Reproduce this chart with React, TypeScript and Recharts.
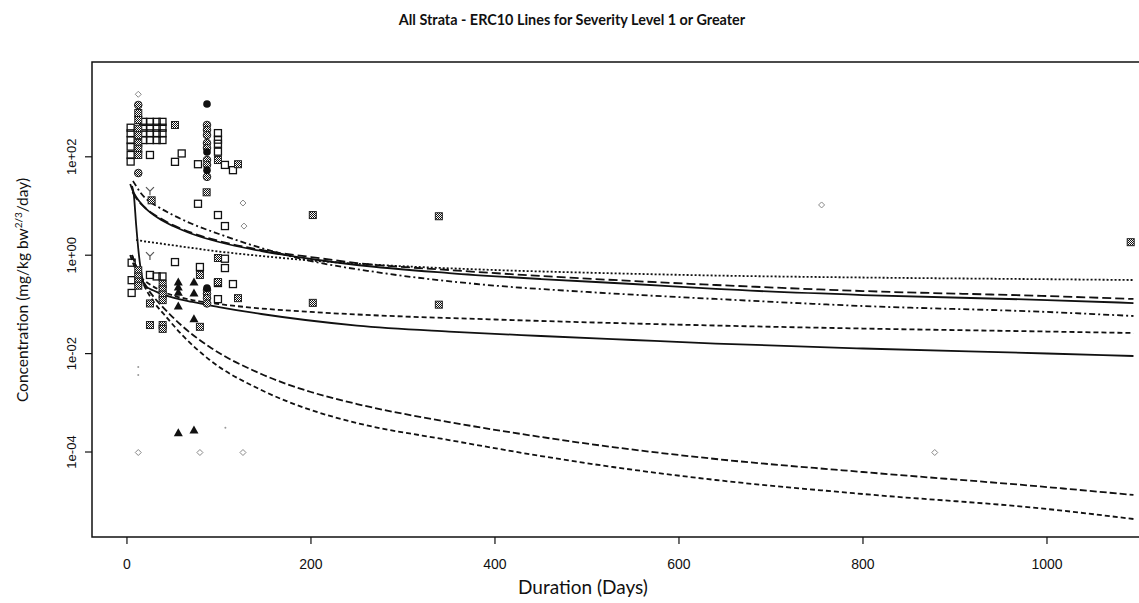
import React from "react";
import { ComposedChart, Line, Scatter, XAxis, YAxis, ReferenceArea } from "recharts";

// ERC10 curves, [duration in days, concentration]
const solidUpper = [[3.5, 28], [6, 21.1], [10, 15.2], [15, 11.5], [20, 9.1], [34, 5.7], [50, 3.92], [71, 2.7], [100, 1.855], [146, 1.217], [200, 0.837], [250, 0.632], [350, 0.434], [450, 0.328], [550, 0.26], [640, 0.206], [800, 0.155], [1000, 0.1227], [1094, 0.1066]];
const longDashUpper = [[6, 19.3], [10, 14.5], [20, 9.1], [34, 5.97], [71, 2.83], [100, 1.944], [146, 1.276], [200, 0.918], [250, 0.693], [350, 0.5], [450, 0.378], [550, 0.299], [640, 0.248], [800, 0.187], [1000, 0.148], [1094, 0.129]];
const dashDot = [[6.5, 32.2], [10, 25.5], [15, 18.4], [20, 14.5], [34, 9.55], [50, 6.56], [71, 4.31], [100, 2.7], [146, 1.4], [200, 0.762], [270, 0.456], [380, 0.26], [500, 0.179], [640, 0.129], [800, 0.0927], [1000, 0.0702], [1094, 0.0581]];
const dotted = [[10, 2.04], [20, 1.898], [40, 1.69], [71, 1.4], [100, 1.189], [146, 0.964], [200, 0.78], [275, 0.632], [400, 0.5], [517, 0.434], [640, 0.386], [800, 0.352], [1000, 0.325], [1094, 0.313]];
const shortDash = [[3.5, 1.009], [7, 0.662], [10, 0.5], [15, 0.36], [26, 0.248], [40, 0.179], [71, 0.1227], [100, 0.1019], [146, 0.0826], [200, 0.0702], [250, 0.0624], [400, 0.0493], [640, 0.0372], [800, 0.0323], [1000, 0.0281], [1094, 0.0262]];
const solidLower = [[5.5, 25.5], [7.5, 16.7], [10, 4.11], [13, 1.009], [16, 0.396], [19, 0.248], [30, 0.187], [41, 0.155], [71, 0.112], [100, 0.0885], [146, 0.0638], [194, 0.0482], [250, 0.0372], [350, 0.0281], [450, 0.0228], [550, 0.0189], [640, 0.016], [800, 0.0127], [1000, 0.01005], [1094, 0.00893]];
const steepDashA = [[5.5, 1.009], [10, 0.602], [15, 0.378], [20, 0.248], [30, 0.135], [40, 0.0845], [60, 0.0364], [90, 0.01361], [146, 0.00385], [200, 0.001658], [250, 0.000945], [350, 0.000407], [450, 0.000202], [528, 0.000126], [640, 0.0000721], [800, 0.0000392], [1000, 0.0000194], [1094, 0.0000134]];
const steepDashB = [[5.5, 1.009], [10, 0.575], [15, 0.344], [20, 0.215], [30, 0.1066], [40, 0.0638], [60, 0.0239], [90, 0.00741], [146, 0.00182], [200, 0.000714], [250, 0.000388], [350, 0.000175], [450, 0.0000829], [528, 0.0000496], [640, 0.000027], [800, 0.000014], [1000, 0.00000694], [1094, 0.00000435]];

// observations, [duration in days, concentration]
const openSquares = [
  [4, 390], [4, 300], [4, 219], [4, 161], [4, 109], [4, 80],
  [17.7, 513], [17.7, 390], [17.7, 300], [17.7, 219],
  [25, 513], [25, 390], [25, 300], [25, 219], [25, 109],
  [32.3, 513], [32.3, 390], [32.3, 300], [32.3, 219],
  [38.6, 513], [38.6, 390], [38.6, 300], [38.6, 219],
  [59.5, 117], [52.2, 79], [77.2, 70.7], [98.9, 303], [98.9, 223], [98.9, 184], [98.9, 127], [106.5, 68.4], [115.2, 53.5],
  [77.2, 11.1], [98.9, 6.55], [106.5, 3.91],
  [5.1, 0.704], [5.1, 0.311], [5.1, 0.171], [25, 0.397], [32.3, 0.37], [38.6, 0.37], [52.2, 0.725], [79.3, 0.576], [106.5, 0.548], [106.5, 0.848],
  [98.9, 0.272], [115.2, 0.259], [98.9, 0.128],
];
const hatchSquares = [
  [12.3, 777], [12.3, 560], [12.3, 372], [12.3, 276], [12.3, 190], [12.3, 146], [12.3, 109],
  [52.2, 443], [98.9, 86], [120.7, 70.7], [86.6, 19], [26.8, 13.05], [202, 6.55], [339, 6.19], [1091, 1.84], [202, 0.1075], [339, 0.0988],
  [12.3, 0.493], [12.3, 0.37], [12.3, 0.291], [12.3, 0.24], [38.8, 0.259], [38.8, 0.202], [38.8, 0.1585], [38.8, 0.1223],
  [25, 0.0381], [38.8, 0.0381], [38.8, 0.0318], [79.3, 0.035], [79.3, 0.397], [98.9, 0.285], [120.7, 0.134], [98.9, 0.877], [25, 0.1046],
];
const hatchCircles = [[87, 443], [87, 351], [87, 277], [87, 190], [87, 151], [87, 86], [87, 68.4], [87, 39.1], [12.3, 1130], [12.3, 46.8], [87, 0.196], [87, 0.1646], [87, 0.134], [87, 0.1046]];
const filledCircles = [[87, 1184], [87, 125], [87, 53.5], [87, 0.214]];
const triangles = [[55.8, 0.285], [55.8, 0.227], [55.8, 0.177], [72.8, 0.285], [72.8, 0.171], [55.8, 0.093], [72.8, 0.0509], [55.8, 0.000246], [72.8, 0.00028]];
const diamonds = [[12.3, 1865], [126.1, 11.5], [127.2, 3.91], [755, 10.5], [12.3, 0.0000977], [79.3, 0.0000977], [126.1, 0.0000977], [878, 0.0000977]];
const wyes = [[25, 20], [25, 0.958]];
const specks = [[12.3, 0.00535], [12.3, 0.00367], [107, 0.000312]];

const xTicks = [0, 200, 400, 600, 800, 1000];
const yTicks = [1e-4, 1e-2, 1, 100];
const yTickLabels = ["1e-04", "1e-02", "1e+00", "1e+02"];

const X_DOMAIN: [number, number] = [-38, 1138.6];
const Y_DOMAIN: [number, number] = [1.873e-6, 8450];

const pts = (a: number[][]) => a.map(([x, y]) => ({ x, y }));
const INK = "#111";
const tickFont = "'Liberation Sans', Arial, sans-serif";
const titleFont = "Lato, 'Open Sans', sans-serif";

const OpenSquare = (p: any) => <rect x={p.cx - 3.5} y={p.cy - 3.5} width={7} height={7} fill="none" stroke={INK} strokeWidth={1.3} />;
const HatchSquare = (p: any) => <rect x={p.cx - 3.5} y={p.cy - 3.5} width={7} height={7} fill="url(#hatch)" stroke="#222" strokeWidth={1} />;
const HatchCircle = (p: any) => <circle cx={p.cx} cy={p.cy} r={3.8} fill="url(#hatch)" stroke="#222" strokeWidth={1} />;
const FilledCircle = (p: any) => <circle cx={p.cx} cy={p.cy} r={3.8} fill={INK} />;
const Triangle = (p: any) => <path d={`M${p.cx},${p.cy - 4.5}L${p.cx + 4.5},${p.cy + 3.5}L${p.cx - 4.5},${p.cy + 3.5}Z`} fill={INK} />;
const Diamond = (p: any) => <path d={`M${p.cx},${p.cy - 3}L${p.cx + 3},${p.cy}L${p.cx},${p.cy + 3}L${p.cx - 3},${p.cy}Z`} fill="none" stroke="#888" strokeWidth={1} />;
const Wye = (p: any) => (
  <path d={`M${p.cx - 4},${p.cy - 4}L${p.cx},${p.cy}L${p.cx + 4},${p.cy - 4}M${p.cx},${p.cy}L${p.cx},${p.cy + 4}`} fill="none" stroke="#555" strokeWidth={1.2} />
);
const Speck = (p: any) => <circle cx={p.cx} cy={p.cy} r={1} fill="#999" />;

const XTick = (p: any) => (
  <text x={p.x} y={p.y + 23} textAnchor="middle" fontFamily={tickFont} fontSize={14} fill={INK}>
    {p.payload.value}
  </text>
);
const YTick = (p: any) => {
  const i = yTicks.indexOf(p.payload.value);
  return (
    <text x={72} y={p.y} transform={`rotate(-90, 72, ${p.y})`} textAnchor="middle" dominantBaseline="central" fontFamily={tickFont} fontSize={13} fill={INK}>
      {yTickLabels[i]}
    </text>
  );
};

const curves: { data: number[][]; dash?: string }[] = [
  { data: solidUpper },
  { data: longDashUpper, dash: "9 4" },
  { data: dashDot, dash: "6 3 2 3" },
  { data: dotted, dash: "2 2" },
  { data: shortDash, dash: "5 3" },
  { data: solidLower },
  { data: steepDashA, dash: "7 3" },
  { data: steepDashB, dash: "5 3" },
];

const marks: { data: number[][]; shape: any }[] = [
  { data: diamonds, shape: Diamond },
  { data: specks, shape: Speck },
  { data: openSquares, shape: OpenSquare },
  { data: hatchSquares, shape: HatchSquare },
  { data: hatchCircles, shape: HatchCircle },
  { data: filledCircles, shape: FilledCircle },
  { data: triangles, shape: Triangle },
  { data: wyes, shape: Wye },
];

export default function App() {
  return (
    <div style={{ position: "fixed", left: 0, top: 0, width: 1139, height: 603, overflow: "hidden", background: "#fff" }}>
      <svg width={1139} height={603} style={{ position: "absolute", left: 0, top: 0, pointerEvents: "none" }}>
        <defs>
          <pattern id="hatch" width={2} height={2} patternUnits="userSpaceOnUse">
            <rect width={2} height={2} fill="#fff" />
            <rect width={1} height={1} fill="#111" />
            <rect x={1} y={1} width={1} height={1} fill="#111" />
          </pattern>
        </defs>
        <text x={572} y={25} textAnchor="middle" fontFamily={titleFont} fontWeight="bold" fontSize={14.4} fill={INK}>
          All Strata - ERC10 Lines for Severity Level 1 or Greater
        </text>
        <text x={583} y={594} textAnchor="middle" fontFamily={titleFont} fontSize={19} fill={INK}>
          Duration (Days)
        </text>
        <text transform="rotate(-90)" x={-290} y={28} textAnchor="middle" fontFamily={titleFont} fontSize={15.5} fill={INK}>
          Concentration (mg/kg bw
          <tspan dy={-6} fontSize={10}>2/3</tspan>
          <tspan dy={6}>/day)</tspan>
        </text>
      </svg>
      <div style={{ position: "absolute", left: 0, top: 0 }}>
        <ComposedChart width={1186} height={603} margin={{ top: 62, right: 11.5, bottom: 0, left: 0 }}>
          <XAxis
            dataKey="x"
            type="number"
            domain={X_DOMAIN}
            allowDataOverflow
            ticks={xTicks}
            height={66}
            axisLine={false}
            tickLine={{ stroke: INK, strokeWidth: 1.2 }}
            tickSize={7}
            tick={<XTick />}
          />
          <YAxis
            dataKey="y"
            type="number"
            scale="log"
            domain={Y_DOMAIN}
            allowDataOverflow
            ticks={yTicks}
            width={92}
            axisLine={false}
            tickLine={{ stroke: INK, strokeWidth: 1.2 }}
            tickSize={7}
            tick={<YTick />}
          />
          <ReferenceArea x1={X_DOMAIN[0]} x2={X_DOMAIN[1]} y1={Y_DOMAIN[0]} y2={Y_DOMAIN[1]} fill="none" fillOpacity={0} stroke={INK} strokeWidth={1.5} ifOverflow="visible" />
          {marks.map((m, i) => (
            <Scatter key={`s${i}`} data={pts(m.data)} dataKey="y" shape={m.shape} isAnimationActive={false} />
          ))}
          {curves.map((c, i) => (
            <Line key={`l${i}`} data={pts(c.data)} dataKey="y" type="monotone" stroke={INK} strokeWidth={1.8} strokeDasharray={c.dash} dot={false} activeDot={false} isAnimationActive={false} />
          ))}
        </ComposedChart>
      </div>
    </div>
  );
}
